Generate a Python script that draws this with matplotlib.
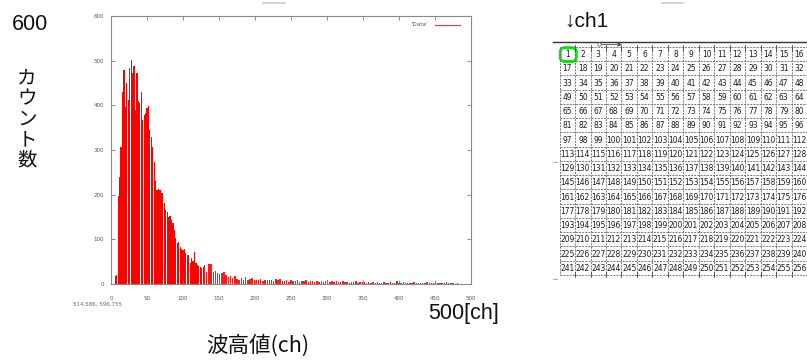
import numpy as np
import matplotlib
matplotlib.use("Agg")
import matplotlib.pyplot as plt
from matplotlib.lines import Line2D
from matplotlib.patches import FancyBboxPatch
from matplotlib import font_manager as fm

W, H = 807, 360

# ---------------- data ----------------
peak_start, peak_step = 6, 2
peak_counts = [18, 20, 197, 240, 307, 430, 480, 397, 450, 412, 483, 501, 472, 488,
               390, 472, 410, 405, 430, 367, 378, 383, 394, 398, 345, 329, 307, 274,
               230, 210, 212, 210, 204, 204, 181, 166, 162, 151, 152, 143, 136, 120,
               103, 92, 95, 83, 78, 76, 78, 69, 65, 65, 47, 58, 52, 72, 47, 42, 40,
               39, 36, 39]
tail_start, tail_step = 130, 3
tail_counts = [42, 27, 45, 44, 27, 30, 25, 22, 24, 26, 20, 16, 17, 14, 18, 12, 10, 13,
               9, 15, 10, 11, 13, 9, 8, 10, 11, 7, 9, 8, 10, 9, 7, 11, 9, 12, 7, 6, 8,
               5, 9, 7, 6, 8, 5, 7, 6, 8, 5, 6, 7, 4, 6, 5, 7, 5, 6, 8, 4, 6, 5, 7, 4,
               5, 6, 4, 5, 3, 5, 4, 6, 3, 5, 4, 5, 3, 4, 3, 4, 2, 4, 3, 3, 4, 2, 3, 4,
               3, 2, 7, 3, 2, 4, 3, 2, 3, 2, 4, 3, 2, 3, 2, 2, 4, 3, 2, 3, 5, 2, 3, 2,
               3, 4, 2, 3, 2, 1, 2, 1]
x_ticks = [0, 50, 100, 150, 200, 250, 300, 350, 400, 450, 500]
y_ticks = [0, 100, 200, 300, 400, 500, 600]
legend_label = "'Data'"
coord_text = "514.586, 596.755"
n_cols, n_rows = 16, 16
cell_labels = [[str(r * n_cols + c + 1) for c in range(n_cols)] for r in range(n_rows)]

# ---------------- figure ----------------
fig = plt.figure(figsize=(W / 100, H / 100), dpi=100)
fig.patch.set_facecolor("white")

def fx(px):
    return px / W

def fy(py):
    return 1 - py / H

# histogram axes
L, R, T, B = 111, 471, 16, 284
ax = fig.add_axes([fx(L), fy(B), (R - L) / W, (B - T) / H])
peak_ch = np.arange(len(peak_counts)) * peak_step + peak_start
tail_ch = np.arange(len(tail_counts)) * tail_step + tail_start
ax.bar(peak_ch, peak_counts, width=1.7, color="#ff0000", linewidth=0, align="center")
ax.bar(tail_ch, tail_counts, width=2.0, color="#ff1a1a", linewidth=0, align="center")
ax.set_xlim(0, 500)
ax.set_ylim(0, 600)
ax.set_xticks(x_ticks)
ax.set_yticks(y_ticks)
ax.set_xticklabels([str(v) for v in x_ticks])
ax.set_yticklabels([str(v) for v in y_ticks])
ax.tick_params(direction="in", length=3, width=0.6, colors="#777777", labelsize=4,
               top=True, right=True, labelcolor="#555555")
ax.tick_params(axis="x", pad=9)
ax.tick_params(axis="y", pad=5)
for s in ax.spines.values():
    s.set_color("#888888")
    s.set_linewidth(0.8)

# legend
fig.text(fx(428), fy(25), legend_label, fontsize=4, color="#555555", ha="right", va="center")
fig.add_artist(Line2D([fx(435), fx(460)], [fy(25), fy(25)], color="#ff3030", lw=0.9,
                      transform=fig.transFigure))
fig.text(fx(73), fy(304), coord_text, fontsize=4, color="#666666", ha="left", va="center")

# big labels
lat = ["Liberation Sans", "DejaVu Sans"]
jp = ["Noto Sans CJK JP", "DejaVu Sans"]
fig.text(fx(12), fy(25), "600", fontsize=15.5, family=lat, ha="left", va="center", color="#111111")
fig.text(fx(27), fy(119), "カ\nウ\nン\nト\n数", fontsize=14, family=jp, ha="center",
         va="center", linespacing=0.98, color="#111111")
fig.text(fx(499), fy(313), "500[ch]", fontsize=15.5, family=lat, ha="right", va="center",
         color="#111111")
fig.text(fx(258), fy(346), "波高値(ch)", fontsize=15.5, family=jp, ha="center", va="center",
         color="#111111")
fig.text(fx(564), fy(21), "↓ch1", fontsize=15, family=lat, ha="left", va="center",
         color="#111111")

# faint slide artifacts
fig.add_artist(Line2D([fx(263), fx(285)], [fy(3), fy(3)], color="#c8c8ea", lw=1.2,
                      transform=fig.transFigure))
fig.add_artist(Line2D([fx(662), fx(683)], [fy(3), fy(3)], color="#c8c8ea", lw=1.2,
                      transform=fig.transFigure))

# ---------------- table ----------------
GL, GR, GT, GB = 559.6, 807.0, 46.9, 274.8
ax2 = fig.add_axes([fx(GL), fy(GB), (GR - GL) / W, (GB - GT) / H])
ax2.set_xlim(0, n_cols)
ax2.set_ylim(n_rows, 0)
ax2.axis("off")
dash = (0, (2.0, 1.2))
for c in range(n_cols + 1):
    ax2.plot([c, c], [0, n_rows], color="#777777", lw=0.7, linestyle=dash, clip_on=False)
for r in range(n_rows + 1):
    ax2.plot([0, n_cols], [r, r], color="#777777", lw=0.7, linestyle=dash, clip_on=False)
for c in range(1, n_cols):
    ax2.plot([c, c], [-0.15, 0.3], color="#444444", lw=0.6, clip_on=False)
    ax2.plot([c, c], [n_rows - 0.2, n_rows + 0.15], color="#444444", lw=0.6, clip_on=False)

names = {f.name for f in fm.fontManager.ttflist}
if "Liberation Sans Narrow" in names:
    num_kw = dict(family="Liberation Sans Narrow", fontweight="bold")
else:
    num_kw = dict(family="DejaVu Sans", fontstretch="condensed")
for r in range(n_rows):
    for c in range(n_cols):
        ax2.text(c + 0.5, r + 0.55, cell_labels[r][c], fontsize=6.0, ha="center",
                 va="center", color="#1a1a1a", **num_kw)

ax2.add_patch(FancyBboxPatch((0.06, 0.08), 1.0, 0.92, boxstyle="round,pad=0.02,rounding_size=0.3",
                             fill=False, edgecolor="#22dd22", lw=2.2, clip_on=False))

# line above table and small marks
fig.add_artist(Line2D([fx(553), fx(807)], [fy(41.7), fy(41.7)], color="#333333", lw=1.0,
                      transform=fig.transFigure))
fig.add_artist(Line2D([fx(599), fx(619)], [fy(44), fy(44)], color="#555555", lw=0.6,
                      transform=fig.transFigure))
fig.add_artist(Line2D([fx(599)], [fy(44)], marker="o", markersize=2.5, markerfacecolor="white",
                      markeredgecolor="#555555", markeredgewidth=0.5, transform=fig.transFigure))
fig.add_artist(Line2D([fx(619)], [fy(44)], marker=">", markersize=2, color="#555555",
                      transform=fig.transFigure))
for yy in (162, 279):
    fig.add_artist(Line2D([fx(553), fx(557)], [fy(yy), fy(yy)], color="#999999", lw=0.6,
                          transform=fig.transFigure))

fig.savefig("out.png", dpi=100, facecolor="white")
